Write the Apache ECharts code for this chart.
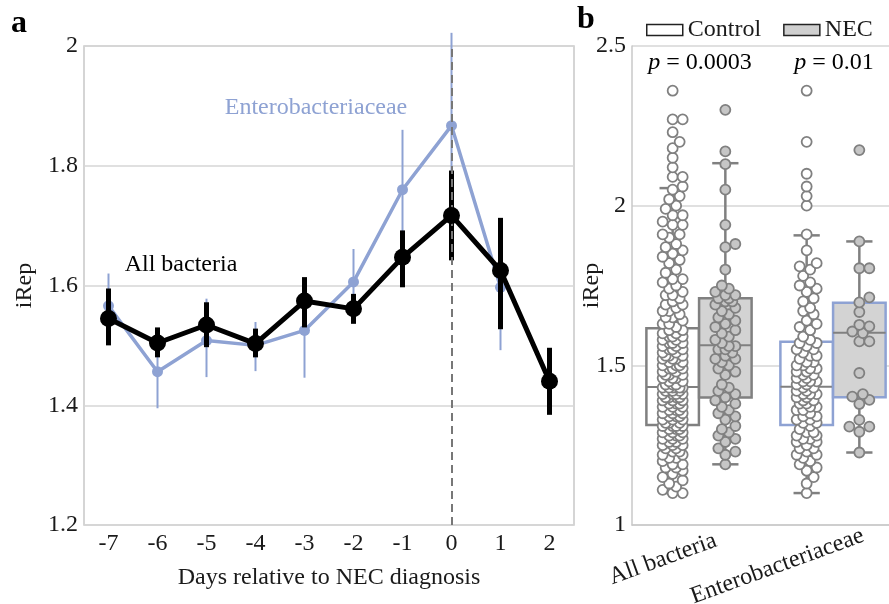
<!DOCTYPE html>
<html>
<head>
<meta charset="utf-8">
<script src="https://cdn.jsdelivr.net/npm/echarts@6/dist/echarts.min.js"></script>
<style>
  html, body { margin: 0; padding: 0; background: #fff; overflow: hidden; }
  #chart { width: 900px; height: 604px; }
</style>
</head>
<body>
<div id="chart"></div>
<script>
// ---- panel a: iRep over days relative to diagnosis ----
var days = ['-7', '-6', '-5', '-4', '-3', '-2', '-1', '0', '1', '2'];
var allMean = [1.545, 1.504, 1.534, 1.503, 1.574, 1.561, 1.647, 1.717, 1.625, 1.440];
var allLow  = [1.500, 1.480, 1.497, 1.480, 1.530, 1.536, 1.597, 1.642, 1.527, 1.384];
var allHigh = [1.595, 1.530, 1.572, 1.528, 1.614, 1.586, 1.692, 1.792, 1.713, 1.496];
var entMean = [1.566, 1.456, 1.508, 1.500, 1.525, 1.606, 1.760, 1.867, 1.597, null];
var entLow  = [1.520, 1.395, 1.447, 1.457, 1.446, 1.550, 1.660, 1.710, 1.492, null];
var entHigh = [1.620, 1.515, 1.578, 1.539, 1.600, 1.661, 1.860, 2.022, 1.700, null];

// ---- panel b: boxplots (low whisker, Q1, median, Q3, high whisker) ----
var groups = ['All bacteria', 'Enterobacteriaceae'];
var controlBox = [[1.100, 1.313, 1.432, 1.616, 2.055], [1.100, 1.313, 1.433, 1.574, 1.907]];
var necBox     = [[1.190, 1.399, 1.563, 1.710, 2.133], [1.227, 1.400, 1.602, 1.696, 1.888]];

var controlAll = [1.10, 1.10, 1.11, 1.12, 1.13, 1.14, 1.15, 1.16, 1.17, 1.18, 1.18, 1.19, 1.19, 1.20,
  1.21, 1.21, 1.22, 1.22, 1.23, 1.23, 1.24, 1.24, 1.25, 1.25, 1.25, 1.26, 1.26, 1.27, 1.27, 1.27, 1.28,
  1.28, 1.28, 1.29, 1.29, 1.29, 1.30, 1.30, 1.30, 1.31, 1.31, 1.31, 1.31, 1.32, 1.32, 1.32, 1.33, 1.33,
  1.33, 1.34, 1.34, 1.34, 1.35, 1.35, 1.35, 1.36, 1.36, 1.36, 1.37, 1.37, 1.37, 1.38, 1.38, 1.38, 1.39,
  1.39, 1.39, 1.40, 1.40, 1.40, 1.40, 1.41, 1.41, 1.41, 1.41, 1.42, 1.42, 1.42, 1.42, 1.43, 1.43, 1.43,
  1.43, 1.43, 1.43, 1.44, 1.44, 1.44, 1.45, 1.45, 1.46, 1.46, 1.46, 1.47, 1.47, 1.47, 1.48, 1.48, 1.49,
  1.49, 1.49, 1.50, 1.50, 1.50, 1.51, 1.51, 1.52, 1.52, 1.52, 1.53, 1.53, 1.53, 1.54, 1.54, 1.55, 1.55,
  1.55, 1.56, 1.56, 1.57, 1.57, 1.57, 1.58, 1.58, 1.59, 1.59, 1.59, 1.60, 1.60, 1.61, 1.61, 1.62, 1.63,
  1.63, 1.64, 1.65, 1.65, 1.66, 1.67, 1.67, 1.68, 1.69, 1.69, 1.70, 1.71, 1.72, 1.72, 1.73, 1.74, 1.75,
  1.76, 1.77, 1.77, 1.79, 1.80, 1.82, 1.83, 1.84, 1.85, 1.86, 1.87, 1.88, 1.90, 1.91, 1.91, 1.94, 1.94,
  1.95, 1.97, 1.97, 1.99, 2.00, 2.02, 2.03, 2.05, 2.06, 2.09, 2.09, 2.12, 2.15, 2.18, 2.20, 2.23, 2.27,
  2.27, 2.36];
var necAll = [1.19, 1.22, 1.23, 1.24, 1.26, 1.27, 1.28, 1.29, 1.30, 1.31, 1.33, 1.34, 1.35, 1.36, 1.37,
  1.38, 1.39, 1.40, 1.41, 1.42, 1.43, 1.44, 1.47, 1.48, 1.49, 1.50, 1.51, 1.52, 1.52, 1.53, 1.54, 1.55,
  1.55, 1.56, 1.56, 1.57, 1.58, 1.59, 1.60, 1.61, 1.62, 1.63, 1.64, 1.65, 1.66, 1.67, 1.68, 1.69, 1.70,
  1.70, 1.71, 1.71, 1.72, 1.72, 1.73, 1.74, 1.75, 1.80, 1.87, 1.88, 1.94, 2.05, 2.13, 2.17, 2.30];
var controlEnt = [1.10, 1.13, 1.15, 1.17, 1.18, 1.19, 1.20, 1.21, 1.22, 1.22, 1.23, 1.24, 1.24, 1.25,
  1.26, 1.26, 1.27, 1.27, 1.28, 1.28, 1.29, 1.29, 1.30, 1.31, 1.32, 1.32, 1.33, 1.33, 1.34, 1.34, 1.35,
  1.36, 1.36, 1.37, 1.37, 1.38, 1.38, 1.39, 1.39, 1.40, 1.40, 1.41, 1.41, 1.41, 1.42, 1.42, 1.43, 1.43,
  1.44, 1.44, 1.45, 1.45, 1.45, 1.46, 1.46, 1.47, 1.47, 1.48, 1.48, 1.49, 1.49, 1.50, 1.50, 1.51, 1.51,
  1.52, 1.53, 1.53, 1.54, 1.55, 1.55, 1.56, 1.57, 1.57, 1.58, 1.59, 1.61, 1.62, 1.63, 1.64, 1.66, 1.67,
  1.68, 1.70, 1.71, 1.73, 1.74, 1.75, 1.76, 1.78, 1.80, 1.81, 1.82, 1.86, 1.91, 2.00, 2.03, 2.06, 2.10,
  2.20, 2.36];
var necEnt = [1.227, 1.292, 1.308, 1.308, 1.329, 1.379, 1.392, 1.402, 1.410, 1.476, 1.575, 1.575, 1.601,
  1.606, 1.622, 1.627, 1.667, 1.697, 1.713, 1.804, 1.804, 1.888, 2.174];

var blue = '#8ea2d3';
var grayLine = '#808080';
var gridColor = '#d6d6d6';
var frame = '#c8c8c8';
var font = '"Liberation Serif", "Times New Roman", serif';
var boxEdges = [grayLine, blue];
var groupShift = 0.1966;   // box centre offset from the group tick, in group units

// the chart canvas is a little wider than the window: panel b runs off the right edge
var chart = echarts.init(document.getElementById('chart'));

function errorBar(width, color) {
  return function(params, api) {
    var lo = api.coord([api.value(0), api.value(1)]);
    var hi = api.coord([api.value(0), api.value(2)]);
    return {
      type: 'line',
      shape: { x1: lo[0], y1: lo[1], x2: hi[0], y2: hi[1] },
      style: { stroke: color, lineWidth: width }
    };
  };
}

function boxItem(shift, fill) {
  return function(params, api) {
    var cat = api.value(0);
    var band = api.size([1, 0])[0];
    var cx = api.coord([cat + shift, 1])[0];
    var half = band * 0.196;
    var cap = half * 0.5;
    function y(v) { return api.coord([cat, v])[1]; }
    var lw = y(api.value(1)), q1 = y(api.value(2)), md = y(api.value(3)),
        q3 = y(api.value(4)), hw = y(api.value(5));
    var ln = { stroke: grayLine, lineWidth: 2.5 };
    return {
      type: 'group',
      children: [
        { type: 'line', shape: { x1: cx, y1: hw, x2: cx, y2: q3 }, style: ln },
        { type: 'line', shape: { x1: cx, y1: q1, x2: cx, y2: lw }, style: ln },
        { type: 'line', shape: { x1: cx - cap, y1: hw, x2: cx + cap, y2: hw }, style: ln },
        { type: 'line', shape: { x1: cx - cap, y1: lw, x2: cx + cap, y2: lw }, style: ln },
        { type: 'rect', shape: { x: cx - half, y: q3, width: half * 2, height: q1 - q3 },
          style: { fill: fill, stroke: boxEdges[cat], lineWidth: 2.5 } },
        { type: 'line', shape: { x1: cx - half, y1: md, x2: cx + half, y2: md },
          style: { stroke: grayLine, lineWidth: 2 } }
      ]
    };
  };
}

function withIndex(arr) { return arr.map(function(v, i) { return [i].concat(v); }); }
function errData(lo, hi) {
  var out = [];
  lo.forEach(function(v, i) { if (v != null) out.push([i, v, hi[i]]); });
  return out;
}

// simple beeswarm: spread points sideways (max ~10px) so that circles overlap less
var pxPerY = 479 / 1.5, pxPerX = 134, dotR = 9;
var offsets = [0, 3.5, -3.5, 7, -7, 10, -10];
function swarm(vals, centre) {
  var placed = [];
  return vals.slice().sort(function(a, b) { return a - b; }).map(function(v) {
    var py = v * pxPerY, best = 0, bestD = -1;
    for (var k = 0; k < offsets.length; k++) {
      var d = Infinity;
      for (var j = placed.length - 1; j >= 0 && j >= placed.length - 30; j--) {
        var dd = Math.hypot(placed[j][0] - offsets[k], placed[j][1] - py);
        if (dd < d) d = dd;
      }
      if (d >= dotR) { best = offsets[k]; break; }
      if (d > bestD) { bestD = d; best = offsets[k]; }
    }
    placed.push([best, py]);
    return [centre + best / pxPerX, v];
  });
}

var axisText = { color: '#1a1a1a', fontSize: 24, fontFamily: font };

chart.setOption({
  animation: false,
  textStyle: { fontFamily: font },
  grid: [
    { left: 84, right: 326, top: 46, bottom: 79, show: true, borderColor: frame, borderWidth: 1.5,
      outerBoundsMode: 'none' },
    { left: 632, right: 0, top: 46, bottom: 79, show: false, outerBoundsMode: 'none' }
  ],
  legend: {
    left: 641, top: 13,
    itemWidth: 36, itemHeight: 11, itemGap: 22,
    textStyle: { color: '#1a1a1a', fontSize: 24, fontFamily: font },
    selectedMode: false,
    data: [
      { name: 'Control', icon: 'rect', itemStyle: { color: '#ffffff', borderColor: '#222', borderWidth: 1.5 } },
      { name: 'NEC', icon: 'rect', itemStyle: { color: '#cfcfcf', borderColor: '#222', borderWidth: 1.5 } }
    ]
  },
  xAxis: [
    {
      gridIndex: 0, type: 'category', data: days,
      axisLine: { show: false }, axisTick: { show: false },
      axisLabel: Object.assign({ margin: 7 }, axisText),
      name: 'Days relative to NEC diagnosis', nameLocation: 'middle', nameGap: 41,
      nameTextStyle: axisText
    },
    {
      gridIndex: 1, type: 'value', min: -0.5, max: 1.5,
      splitLine: { show: false }, minorSplitLine: { show: false }, axisTick: { show: false },
      axisLine: { show: true, onZero: false, lineStyle: { color: frame, width: 1.5 } },
      axisLabel: Object.assign({
        rotate: 20, margin: 21, customValues: [0, 1],
        formatter: function(v) { return (v < 0.5 ? '{a|' : '{b|') + groups[Math.round(v)] + '}'; },
        rich: {
          a: { fontSize: 24, fontFamily: font, color: '#1a1a1a', padding: [0, -18, 0, 0] },
          b: { fontSize: 24, fontFamily: font, color: '#1a1a1a', padding: [0, -32, 0, 0] }
        }
      }, axisText)
    }
  ],
  yAxis: [
    {
      gridIndex: 0, type: 'value', min: 1.2, max: 2, interval: 0.2,
      axisLine: { show: false }, axisTick: { show: false },
      splitLine: { lineStyle: { color: gridColor, width: 1.5 } },
      axisLabel: Object.assign({ margin: 6 }, axisText),
      name: 'iRep', nameLocation: 'middle', nameGap: 47, nameTextStyle: axisText
    },
    {
      gridIndex: 1, type: 'value', min: 1, max: 2.5, interval: 0.5, position: 'left',
      axisLine: { show: true, onZero: false, lineStyle: { color: frame, width: 1.5 } },
      axisTick: { show: false },
      splitLine: { lineStyle: { color: gridColor, width: 1.5 } },
      axisLabel: Object.assign({ margin: 6 }, axisText),
      name: 'iRep', nameLocation: 'middle', nameGap: 28, nameMoveOverlap: false,
      nameTextStyle: axisText
    }
  ],
  graphic: [
    { type: 'text', x: 11, y: 8, style: { text: 'a', font: 'bold 32px ' + font, fill: '#000' } },
    { type: 'text', x: 577, y: 4, style: { text: 'b', font: 'bold 32px ' + font, fill: '#000' } },
    { type: 'text', x: 316, y: 108, style: { text: 'Enterobacteriaceae', font: '24px ' + font,
      fill: blue, textAlign: 'center', textVerticalAlign: 'middle' } },
    { type: 'text', x: 181, y: 265, style: { text: 'All bacteria', font: '24px ' + font,
      fill: '#000', textAlign: 'center', textVerticalAlign: 'middle' } },
    { type: 'text', x: 700, y: 63, style: { text: '{i|p} = 0.0003', font: '24px ' + font, fill: '#000',
      textAlign: 'center', textVerticalAlign: 'middle',
      rich: { i: { fontStyle: 'italic', fontSize: 24, fontFamily: font } } } },
    { type: 'text', x: 834, y: 63, style: { text: '{i|p} = 0.01', font: '24px ' + font, fill: '#000',
      textAlign: 'center', textVerticalAlign: 'middle',
      rich: { i: { fontStyle: 'italic', fontSize: 24, fontFamily: font } } } }
  ],
  series: [
    {
      type: 'custom', xAxisIndex: 0, yAxisIndex: 0, z: 2,
      renderItem: errorBar(2, blue), data: errData(entLow, entHigh)
    },
    {
      name: 'Enterobacteriaceae', type: 'line', xAxisIndex: 0, yAxisIndex: 0, z: 3,
      data: entMean, symbol: 'circle', symbolSize: 11,
      lineStyle: { color: blue, width: 3.5 }, itemStyle: { color: blue }
    },
    {
      type: 'custom', xAxisIndex: 0, yAxisIndex: 0, z: 4,
      renderItem: errorBar(5, '#000'), data: errData(allLow, allHigh)
    },
    {
      name: 'All bacteria', type: 'line', xAxisIndex: 0, yAxisIndex: 0, z: 5,
      data: allMean, symbol: 'circle', symbolSize: 17,
      lineStyle: { color: '#000', width: 5 }, itemStyle: { color: '#000' },
      markLine: {
        silent: true, symbol: 'none', label: { show: false },
        lineStyle: { color: '#777', type: [8, 5], width: 2 },
        data: [{ xAxis: '0' }]
      }
    },
    {
      name: 'Control', type: 'custom', xAxisIndex: 1, yAxisIndex: 1, z: 2,
      itemStyle: { color: '#ffffff' },
      renderItem: boxItem(-groupShift, '#ffffff'), data: withIndex(controlBox)
    },
    {
      name: 'NEC', type: 'custom', xAxisIndex: 1, yAxisIndex: 1, z: 2,
      itemStyle: { color: '#cfcfcf' },
      renderItem: boxItem(groupShift, '#d3d3d3'), data: withIndex(necBox)
    },
    {
      name: 'Control', type: 'scatter', xAxisIndex: 1, yAxisIndex: 1, z: 6,
      symbolSize: 10,
      itemStyle: { color: '#ffffff', borderColor: grayLine, borderWidth: 1.8, opacity: 1 },
      data: swarm(controlAll, -groupShift).concat(swarm(controlEnt, 1 - groupShift))
    },
    {
      name: 'NEC', type: 'scatter', xAxisIndex: 1, yAxisIndex: 1, z: 6,
      symbolSize: 10,
      itemStyle: { color: '#c6c6c6', borderColor: grayLine, borderWidth: 1.8, opacity: 1 },
      data: swarm(necAll, groupShift).concat(swarm(necEnt, 1 + groupShift))
    }
  ]
});

window.addEventListener('resize', function() { chart.resize(); });
</script>
</body>
</html>
